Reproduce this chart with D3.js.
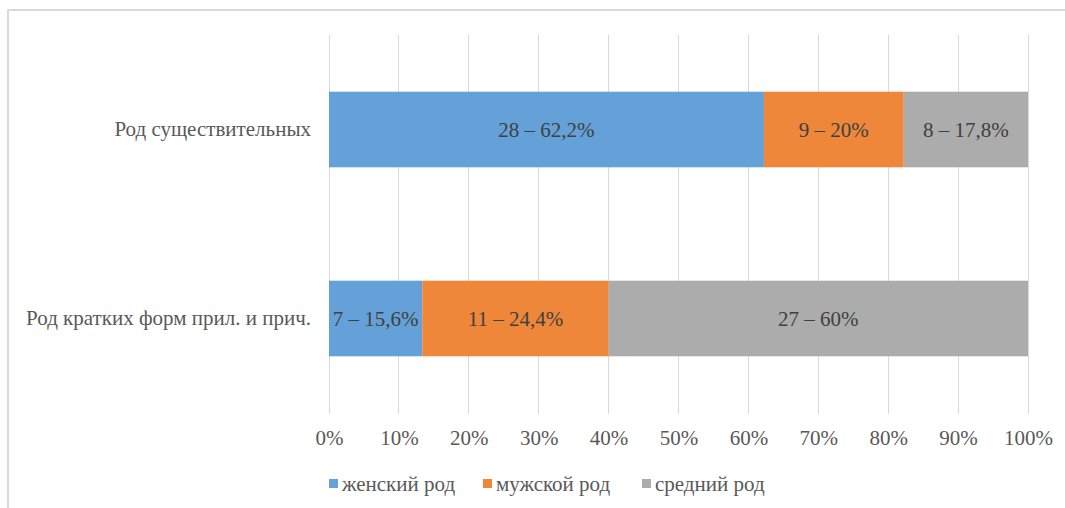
<!DOCTYPE html>
<html><head><meta charset="utf-8">
<script src="https://cdn.jsdelivr.net/npm/d3@7"></script>
<style>html,body{margin:0;padding:0;background:#fff;overflow:hidden}
svg text{font-family:"Liberation Serif","Times New Roman",Tinos,"DejaVu Serif",serif;}</style>
</head><body>
<svg id="chart" width="1065" height="508"></svg>
<script>
const categories = ["Род существительных", "Род кратких форм прил. и прич."];
const seriesNames = ["женский род", "мужской род", "средний род"];
const femaleVals = [28, 6];
const maleVals = [9, 12];
const neuterVals = [8, 27];
const femaleLabels = ["28 – 62,2%", "7 – 15,6%"];
const maleLabels = ["9 – 20%", "11 – 24,4%"];
const neuterLabels = ["8 – 17,8%", "27 – 60%"];
const tickValues = [0, 0.1, 0.2, 0.3, 0.4, 0.5, 0.6, 0.7, 0.8, 0.9, 1.0];
const colors = ["#64a1d8", "#ee873a", "#acacac"];

const svg = d3.select("#chart");
const fs = 21;

// frame
svg.append("rect").attr("x", 8).attr("y", 10).attr("width", 1070).attr("height", 520)
  .attr("fill", "none").attr("stroke", "#d9d9d9").attr("stroke-width", 2);

const pLeft = 329, pRight = 1028, pTop = 35, pBottom = 413;
const x = d3.scaleLinear().domain([0, 1]).range([pLeft, pRight]);
const y = d3.scaleBand().domain(categories).range([pTop, pBottom]).paddingInner(0.6).paddingOuter(0.3);

// gridlines
svg.append("g").selectAll("line").data(tickValues).join("line")
  .attr("x1", d => x(d)).attr("x2", d => x(d)).attr("y1", pTop).attr("y2", pBottom + 1)
  .attr("stroke", "#d9d9d9").attr("stroke-width", 1).attr("shape-rendering", "crispEdges");

// x axis labels
const xAxis = d3.axisBottom(x).tickValues(tickValues).tickSize(0).tickPadding(0)
  .tickFormat(d => Math.round(d * 100) + "%");
const gx = svg.append("g").attr("transform", `translate(0,${pBottom})`).call(xAxis);
gx.select(".domain").remove();
gx.attr("font-family", null);
gx.selectAll("text").attr("font-size", fs).attr("fill", "#595959")
  .attr("dy", null).attr("y", 32);

// y axis labels
const yAxis = d3.axisLeft(y).tickSize(0).tickPadding(18);
const gy = svg.append("g").attr("transform", `translate(${pLeft},0)`).call(yAxis);
gy.select(".domain").remove();
gy.attr("font-family", null);
gy.selectAll("text").attr("font-size", fs).attr("fill", "#595959");

// stacked data
const rows = categories.map((c, i) => {
  const tot = femaleVals[i] + maleVals[i] + neuterVals[i];
  return {cat: c, v: [femaleVals[i] / tot, maleVals[i] / tot, neuterVals[i] / tot],
          l: [femaleLabels[i], maleLabels[i], neuterLabels[i]]};
});
const segs = [];
rows.forEach(r => {
  let acc = 0;
  r.v.forEach((v, k) => { segs.push({cat: r.cat, x0: acc, x1: acc + v, k, label: r.l[k]}); acc += v; });
});

svg.append("g").selectAll("rect").data(segs).join("rect")
  .attr("x", d => x(d.x0)).attr("width", d => x(d.x1) - x(d.x0))
  .attr("y", d => y(d.cat)).attr("height", y.bandwidth())
  .attr("fill", d => colors[d.k]);

svg.append("g").selectAll("text").data(segs).join("text")
  .attr("x", d => (x(d.x0) + x(d.x1)) / 2).attr("y", d => y(d.cat) + y.bandwidth() / 2)
  .attr("dy", "0.35em").attr("text-anchor", "middle")
  .attr("font-size", fs).attr("fill", "#404040")
  .text(d => d.label);

// legend
const legendX = [329, 483, 642];
const lg = svg.append("g").selectAll("g").data(seriesNames).join("g")
  .attr("transform", (d, i) => `translate(${legendX[i]},484)`);
lg.append("rect").attr("x", 0).attr("y", -5).attr("width", 9).attr("height", 9)
  .attr("fill", (d, i) => colors[i]);
lg.append("text").attr("x", 13).attr("dy", "0.35em")
  .attr("font-size", fs).attr("fill", "#595959").text(d => d);
</script>
</body></html>
